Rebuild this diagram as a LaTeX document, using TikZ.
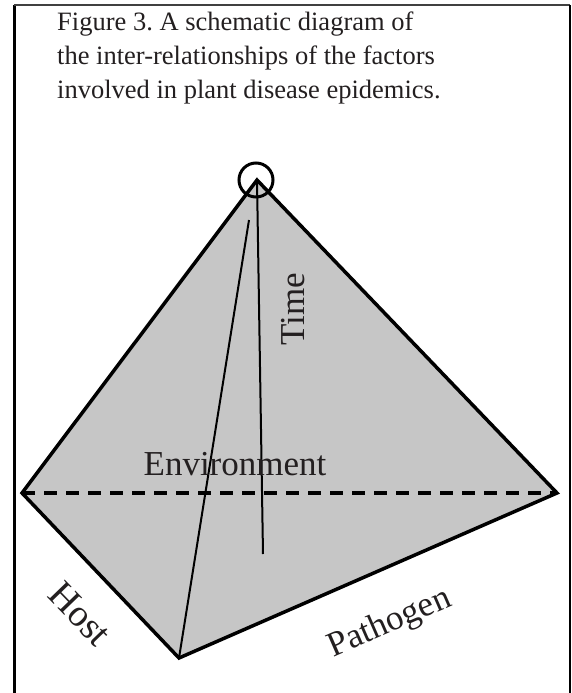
\documentclass[tikz,border=0pt]{standalone}
\usepackage{fontspec}
\setmainfont{Liberation Serif}
\frenchspacing
\definecolor{fillgray}{RGB}{198,198,198}
\definecolor{txt}{RGB}{35,31,32}
\begin{document}
\begin{tikzpicture}[x=1pt,y=-1pt,
  edge/.style={line width=3.5pt,line join=miter},
  inner/.style={line width=2pt},
  lbl/.style={text=txt,font=\fontsize{35}{40}\selectfont,inner sep=0pt},
  title/.style={text=txt,font=\fontsize{26.5}{34}\selectfont,inner sep=0pt,align=left,anchor=north west}]
\useasboundingbox (0,0) rectangle (572,693);
% frame
\draw[line width=3pt] (14,693) -- (14,5);
\draw[line width=2pt,black!75] (14,5) -- (570,5);
\draw[line width=2.5pt] (570,5) -- (570,693);
% title
\node[title] (t) at (57,12) {Figure 3. A schematic diagram of\\the inter-relationships of the factors\\involved in plant disease epidemics.};
% vertices
\coordinate (A) at (257,180);
\coordinate (L) at (22,493);
\coordinate (R) at (557,493);
\coordinate (B) at (179,658);
\coordinate (P) at (249,220);
\coordinate (Q) at (263,554);
\fill[fillgray] (A) -- (R) -- (B) -- (L) -- cycle;
\draw[line width=3.5pt,dash pattern=on 13pt off 9pt] (L) -- (R);
\draw[inner] (B) -- (P);
\draw[inner] (A) -- (Q);
\draw[edge] (L) -- (A) -- (R) -- (B) -- cycle;
\node[draw,circle,line width=3pt,minimum size=34pt,inner sep=0pt] (c) at (256,180) {};
% labels
\node[lbl] (env) at (235,464) {Environment};
\node[lbl,rotate=90] (time) at (293,309) {Time};
\node[lbl,rotate=-46,font=\fontsize{38}{42}\selectfont] (host) at (80,614) {Host};
\node[lbl,rotate=23.6] (path) at (390,624) {Pathogen};
\end{tikzpicture}
\end{document}
